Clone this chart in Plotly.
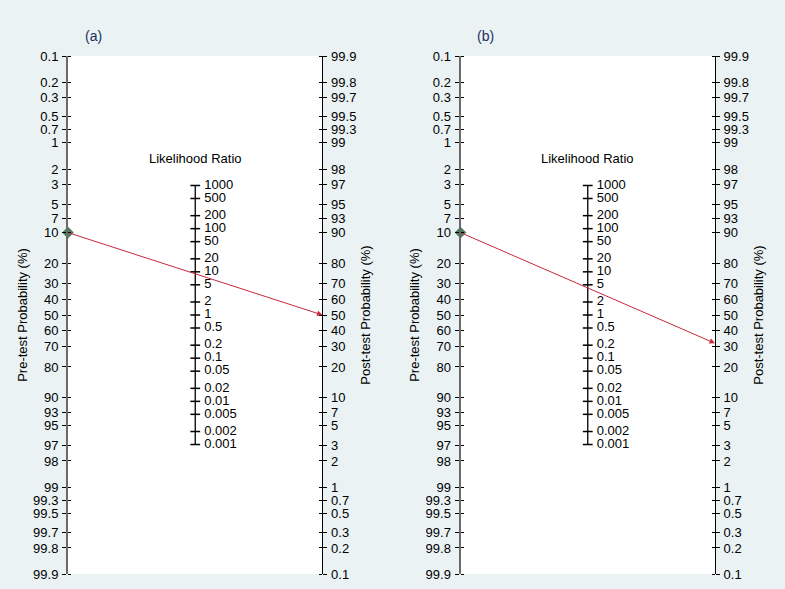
import numpy as np
import plotly.graph_objects as go
from plotly.subplots import make_subplots

# data
pre_ticks = [0.1, 0.2, 0.3, 0.5, 0.7, 1, 2, 3, 5, 7, 10, 20, 30, 40, 50, 60, 70, 80,
             90, 93, 95, 97, 98, 99, 99.3, 99.5, 99.7, 99.8, 99.9]
post_ticks = [99.9, 99.8, 99.7, 99.5, 99.3, 99, 98, 97, 95, 93, 90, 80, 70, 60, 50, 40,
              30, 20, 10, 7, 5, 3, 2, 1, 0.7, 0.5, 0.3, 0.2, 0.1]
lr_ticks = [1000, 500, 200, 100, 50, 20, 10, 5, 2, 1, 0.5, 0.2, 0.1, 0.05, 0.02,
            0.01, 0.005, 0.002, 0.001]
panels = ["(a)", "(b)"]
pre_test = [10, 10]
post_test = [50, 32]

BG = "#eaf2f4"
FONT = "Liberation Sans, Arial, sans-serif"
LIM = np.log(0.999 / 0.001)


def logit(p):
    p = np.asarray(p, dtype=float) / 100.0
    return np.log(p / (1 - p))


def fmt(v):
    return ("%g" % v)


fig = make_subplots(rows=1, cols=2, horizontal_spacing=0.2133)
tick_font = dict(family=FONT, size=13, color="black")
title_font = dict(family=FONT, size=13, color="black")

for i, tag in enumerate(panels):
    col = i + 1
    xa = "x" if i == 0 else "x2"
    ya = "y" if i == 0 else "y2"
    ra = "y3" if i == 0 else "y4"

    # likelihood ratio scale in the middle
    lr_y = -np.log(np.array(lr_ticks, dtype=float)) / 2
    fig.add_trace(go.Scatter(x=[0.5] * len(lr_ticks), y=lr_y, mode="lines+markers+text",
                             line=dict(color="black", width=1.3),
                             marker=dict(symbol="line-ew", size=7,
                                         line=dict(color="black", width=1.5)),
                             text=[" " + fmt(v) for v in lr_ticks], textposition="middle right",
                             textfont=tick_font,
                             cliponaxis=False, hoverinfo="skip", showlegend=False),
                  row=1, col=col)

    # arrow from pre-test to post-test
    y0 = float(logit(pre_test[i]))
    y1 = -float(logit(post_test[i]))
    fig.add_annotation(x=1, y=y1, ax=0, ay=y0, xref=xa, yref=ya, axref=xa, ayref=ya,
                       showarrow=True, arrowhead=2, arrowsize=1.1, arrowwidth=1,
                       arrowcolor="#c8283c", text="")
    fig.add_trace(go.Scatter(x=[0], y=[y0], mode="markers",
                             marker=dict(symbol="diamond", size=9, color="#4f7d5f"),
                             cliponaxis=False, hoverinfo="skip", showlegend=False),
                  row=1, col=col)

    # dummy trace so the right-hand axis gets drawn
    fig.add_trace(go.Scatter(x=[0.5], y=[0], xaxis=xa, yaxis=ra, mode="markers",
                             marker=dict(opacity=0), hoverinfo="skip", showlegend=False))

    fig.update_xaxes(range=[0, 1], visible=False, row=1, col=col)

    dom = fig.layout["xaxis" if i == 0 else "xaxis2"].domain
    fig.add_annotation(x=dom[0] + 0.023, y=1.02, xref="paper", yref="paper", text=tag,
                       showarrow=False, xanchor="left", yanchor="bottom",
                       font=dict(family=FONT, size=14, color="#1a3060"))
    fig.add_annotation(x=(dom[0] + dom[1]) / 2, y=lr_y[0] - 0.72, xref="paper",
                       yref=ya, text="Likelihood Ratio", showarrow=False,
                       xanchor="center", font=title_font)

for i in range(2):
    yname = "yaxis" if i == 0 else "yaxis2"
    xname = "x" if i == 0 else "x2"
    fig.layout[yname].update(
        range=[LIM, -LIM], autorange=False, automargin=False,
        tickvals=logit(pre_ticks), ticktext=[fmt(v) for v in pre_ticks],
        ticks="outside", ticklen=4, tickwidth=1, tickcolor="black",
        minor=dict(ticks="inside", ticklen=3, tickwidth=1, tickcolor="black",
                   tickvals=list(logit(pre_ticks))),
        showline=True, linecolor="#6a6a6a", linewidth=2, showgrid=False, zeroline=False,
        tickfont=tick_font, ticklabelstandoff=1,
        title=dict(text="Pre-test Probability (%)", font=title_font, standoff=3))
    rname = "yaxis3" if i == 0 else "yaxis4"
    fig.layout[rname] = dict(
        overlaying="y" if i == 0 else "y2", anchor=xname, side="right",
        range=[-LIM, LIM], autorange=False, automargin=False,
        tickvals=logit(post_ticks), ticktext=[fmt(v) for v in post_ticks],
        ticks="outside", ticklen=4, tickwidth=1, tickcolor="black",
        minor=dict(ticks="inside", ticklen=3, tickwidth=1, tickcolor="black",
                   tickvals=list(logit(post_ticks))),
        showline=True, linecolor="black", linewidth=1, showgrid=False, zeroline=False,
        tickfont=tick_font, ticklabelstandoff=1,
        title=dict(text="Post-test Probability (%)", font=title_font, standoff=5))

fig.update_layout(width=785, height=589, paper_bgcolor=BG, plot_bgcolor="white",
                  margin=dict(l=68, r=70, t=56, b=15, autoexpand=False), showlegend=False)

fig.write_html("out.html", config={"displayModeBar": False},
               post_script="document.body.style.margin='0';")
